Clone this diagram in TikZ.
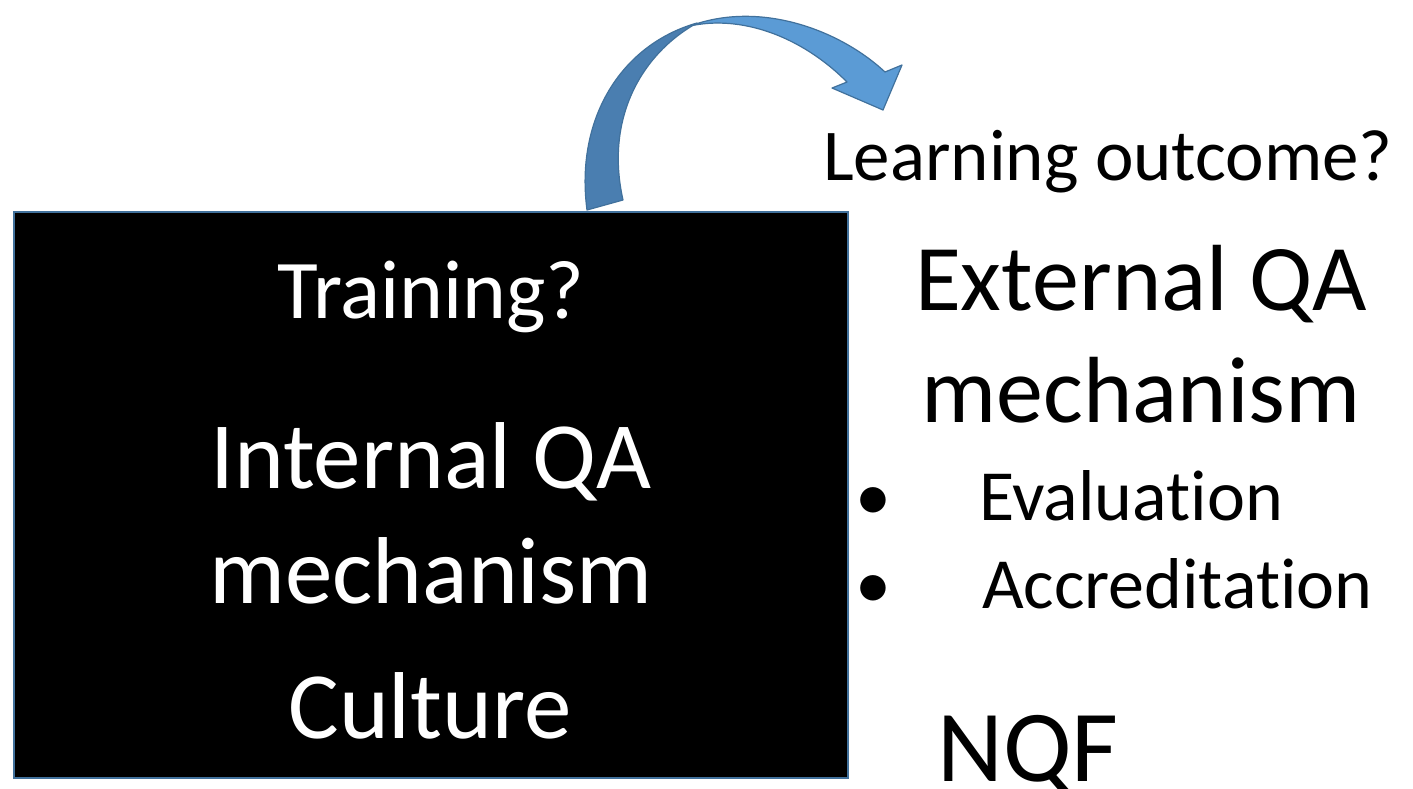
\documentclass[tikz,border=0pt]{standalone}
\usepackage{fontspec}
\setmainfont{Carlito}[Ligatures={NoCommon}]
\definecolor{arrowlight}{HTML}{5B9BD5}
\definecolor{arrowdark}{HTML}{4A7EB0}
\definecolor{arrowline}{HTML}{41719C}
\definecolor{boxline}{HTML}{41719C}
\tikzset{
  txt/.style={inner sep=0pt, outer sep=0pt, anchor=base},
  bigw/.style={txt, text=white, font=\fontsize{95}{114}\selectfont},
  bigb/.style={txt, text=black, font=\fontsize{94}{112}\selectfont},
  midb/.style={txt, text=black, font=\fontsize{73}{88}\selectfont},
  bul/.style={txt, text=black, font=\fontsize{72}{86}\selectfont},
}
\begin{document}
\begin{tikzpicture}[x=1pt,y=-1pt]
\useasboundingbox (0,0) rectangle (1413,788);
% box
\node[draw=boxline, line width=2pt, fill=black, minimum width=834pt, minimum height=566pt, inner sep=0pt, anchor=north west] (box) at (13,211) {};
% curved arrow: back (dark) part
\path[fill=arrowdark, draw=arrowline, line width=1.2pt, line join=round]
  (587,210) .. controls (575,120) and (620,45) .. (697,23)
  .. controls (640,55) and (605,120) .. (623,200) -- cycle;
% front (light) part with head
\path[fill=arrowlight, draw=arrowline, line width=1.2pt, line join=round]
  (690,26) .. controls (760,0) and (840,30) .. (885,72)
  -- (902,65) -- (883,110) -- (832,88) -- (847,82)
  .. controls (800,35) and (740,15) .. (690,26) -- cycle;
% left texts
\node[txt, text=white, font=\fontsize{83.5}{100}\selectfont] (training) at (431,318) {Training?};
\node[bigw] (iqa) at (431,488) {Internal QA};
\node[bigw] (imech) at (431,603) {mechanism};
\node[bigw] (culture) at (430,738) {Culture};
% right texts
\node[midb] (lo) at (1108,180) {Learning outcome?};
\node[bigb] (eqa) at (1141,310) {External QA};
\node[bigb] (emech) at (1141,422) {mechanism};
\node[bul] (b1) at (873,520) {•};
\node[bul] (b2) at (873,608) {•};
\node[bul, anchor=base west] (eval) at (979,520) {Evaluation};
\node[bul, anchor=base west] (accr) at (982,608) {Accreditation};
\node[txt, text=black, font=\fontsize{102}{120}\selectfont] (nqf) at (1028,781) {NQF};
\end{tikzpicture}
\end{document}
